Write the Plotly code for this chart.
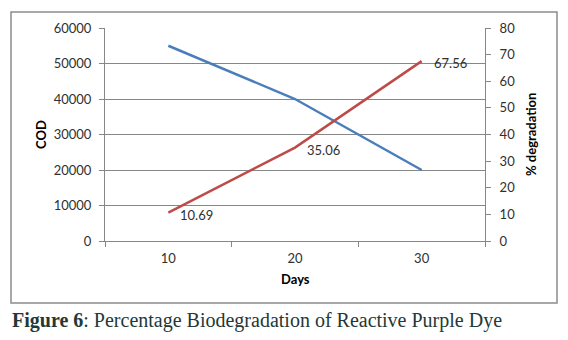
import plotly.graph_objects as go

days = ["10", "20", "30"]
cod = [55000, 40000, 20000]
degradation = [10.69, 35.06, 67.56]
deg_labels = ["10.69", "35.06", "67.56"]

W, H = 568, 340
L, R, T, B = 105, 83, 28, 99
pw, ph = W - L - R, H - T - B

def px_x(x):
    return (x - L) / pw

def px_y(y):
    return (H - B - y) / ph

FONT = "Lato, Carlito, Open Sans, sans-serif"
GRAY = "#878787"
TXT = "#303030"

fig = go.Figure()
fig.add_trace(go.Scatter(x=days, y=cod, mode="lines", line=dict(color="#4a7ebb", width=2.5),
                         showlegend=False, yaxis="y"))
fig.add_trace(go.Scatter(x=days, y=degradation, mode="lines",
                         line=dict(color="#be4b48", width=2.5), showlegend=False, yaxis="y2"))

annotations = [
    dict(text=lab, x=i, y=v, xref="x", yref="y2", xanchor="left", yanchor="middle",
         xshift=10, yshift=-2, showarrow=False, font=dict(size=13, family=FONT, color=TXT))
    for i, (v, lab) in enumerate(zip(degradation, deg_labels))
]
annotations += [
    dict(text="<b>COD</b>", xref="paper", yref="paper", x=px_x(41), y=px_y(135),
         xanchor="center", yanchor="middle",
         textangle=-90, showarrow=False, font=dict(size=13, family=FONT, color="#000")),
    dict(text="<b>% degradation</b>", xref="paper", yref="paper", x=px_x(531), y=px_y(135),
         xanchor="center", yanchor="middle",
         textangle=-90, showarrow=False, font=dict(size=13, family=FONT, color="#000")),
    dict(text="<b>Days</b>", xref="paper", yref="paper", x=px_x(295), y=px_y(279),
         xanchor="center", yanchor="middle",
         showarrow=False, font=dict(size=13, family=FONT, color="#000")),
    dict(text="<b>Figure 6</b>: Percentage Biodegradation of Reactive Purple Dye",
         xref="paper", yref="paper", x=px_x(10), y=px_y(320), xanchor="left", yanchor="middle",
         showarrow=False, font=dict(size=20, family="Liberation Serif, serif", color="#243838")),
]

fig.update_layout(
    width=W, height=H,
    margin=dict(l=L, r=R, t=T, b=B),
    paper_bgcolor="white", plot_bgcolor="white",
    font=dict(family=FONT, size=13, color=TXT),
    xaxis=dict(type="category", tickson="boundaries", ticks="outside", ticklen=5, tickcolor=GRAY,
               showline=True, linecolor=GRAY, linewidth=1, showgrid=False, zeroline=False,
               range=[-0.5, 2.5], tickfont=dict(size=13), ticklabelstandoff=5),
    yaxis=dict(range=[0, 60000], dtick=10000, showgrid=True, gridcolor=GRAY, gridwidth=1,
               showline=True, linecolor=GRAY, ticks="outside", ticklen=5, tickcolor=GRAY,
               zeroline=False, tickfont=dict(size=13), tickformat="d", ticklabelstandoff=5),
    yaxis2=dict(range=[0, 80], dtick=10, overlaying="y", side="right", showgrid=False,
                showline=True, linecolor=GRAY, ticks="outside", ticklen=5, tickcolor=GRAY,
                zeroline=False, tickfont=dict(size=13), ticklabelstandoff=6),
    shapes=[dict(type="rect", xref="paper", yref="paper",
                 x0=px_x(11), x1=px_x(557), y0=px_y(303), y1=px_y(12),
                 line=dict(color="#8c8c8c", width=1.5), layer="below")],
    annotations=annotations,
)

fig.write_html("out.html")
